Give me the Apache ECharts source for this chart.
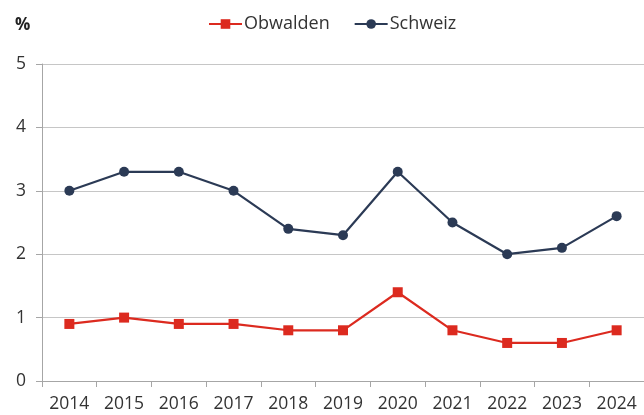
<!DOCTYPE html>
<html>
<head>
<meta charset="utf-8">
<script src="https://cdn.jsdelivr.net/npm/echarts@6/dist/echarts.min.js"></script>
<style>
  html, body { margin: 0; padding: 0; background: #fff; }
  #chart { width: 644px; height: 415px; }
</style>
</head>
<body>
<div id="chart"></div>
<script>
const years = ['2014', '2015', '2016', '2017', '2018', '2019', '2020', '2021', '2022', '2023', '2024'];
const obwalden = [0.9, 1.0, 0.9, 0.9, 0.8, 0.8, 1.4, 0.8, 0.6, 0.6, 0.8];
const schweiz = [3.0, 3.3, 3.3, 3.0, 2.4, 2.3, 3.3, 2.5, 2.0, 2.1, 2.6];
const yTicks = [0, 1, 2, 3, 4, 5];

const font = '"Open Sans", sans-serif';
const myChart = echarts.init(document.getElementById('chart'));

const option = {
  animation: false,
  textStyle: { fontFamily: font },
  title: {
    text: '%',
    left: 10, top: 12,
    textStyle: { fontFamily: font, fontSize: 17, fontWeight: 'bold', color: '#222' }
  },
  legend: {
    top: 10,
    left: 203,
    itemWidth: 33,
    itemHeight: 12,
    itemGap: 24,
    textStyle: { fontFamily: font, fontSize: 18, color: '#333', padding: [0, 0, 0, -3] },
    data: ['Obwalden', 'Schweiz']
  },
  grid: { left: 42, top: 64, width: 605, height: 317 },
  xAxis: {
    type: 'category',
    data: years,
    boundaryGap: true,
    axisLine: { lineStyle: { color: '#a6a6a6', width: 1 } },
    axisTick: { show: true, length: 6, lineStyle: { color: '#a6a6a6' } },
    axisLabel: { fontFamily: font, fontSize: 17.5, color: '#333', margin: 14 }
  },
  yAxis: {
    type: 'value',
    min: yTicks[0],
    max: yTicks[yTicks.length - 1],
    interval: 1,
    axisLine: { show: true, lineStyle: { color: '#a6a6a6', width: 1 } },
    axisTick: { show: true, length: 6, lineStyle: { color: '#a6a6a6' } },
    axisLabel: { fontFamily: font, fontSize: 17.5, color: '#333', margin: 16 },
    splitLine: { show: true, lineStyle: { color: '#c6c6c6', width: 1 } }
  },
  series: [
    {
      name: 'Obwalden',
      type: 'line',
      data: obwalden,
      symbol: 'rect',
      symbolSize: 10,
      color: '#dc2a1f',
      lineStyle: { width: 2.2, color: '#dc2a1f' },
      itemStyle: { color: '#dc2a1f' }
    },
    {
      name: 'Schweiz',
      type: 'line',
      data: schweiz,
      symbol: 'circle',
      symbolSize: 10,
      color: '#2b3a55',
      lineStyle: { width: 2.2, color: '#2b3a55' },
      itemStyle: { color: '#2b3a55' }
    }
  ]
};

myChart.setOption(option);
</script>
</body>
</html>
